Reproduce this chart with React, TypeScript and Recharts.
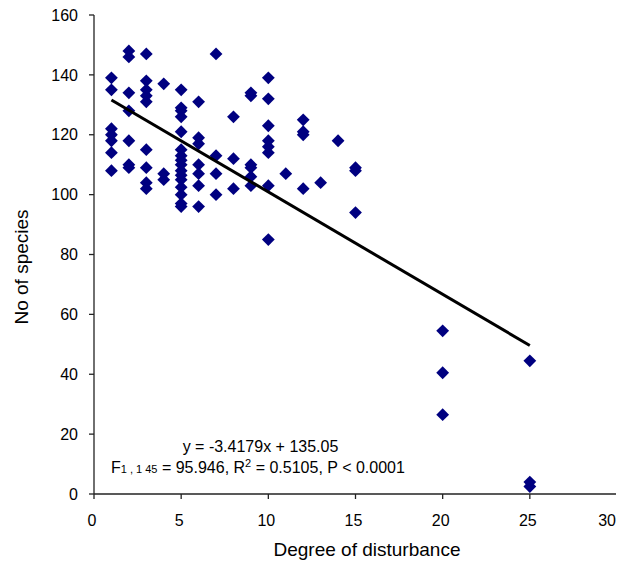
import React from 'react';
import { ScatterChart, Scatter, XAxis, YAxis, Customized } from 'recharts';

// degree of disturbance and the species counts seen at each level
const disturbanceLevels = [1, 2, 3, 4, 5, 6, 7, 8, 9, 10, 11, 12, 13, 14, 15, 20, 25];
const speciesCounts = [
  [139, 135, 122, 120, 118, 114, 108],
  [148, 146, 134, 128, 118, 110, 109],
  [147, 138, 135, 133, 131, 115, 109, 104, 102],
  [137, 107, 105],
  [135, 129, 128, 126, 121, 115, 113, 111.5, 110, 108, 106.5, 105, 102.5, 100, 97, 96],
  [131, 119, 117, 110, 107, 103, 96],
  [147, 113, 107, 100],
  [126, 112, 102],
  [134, 133, 110, 109, 106, 103],
  [139, 132, 123, 118, 116, 114, 103, 85],
  [107],
  [125, 121, 120, 102],
  [104],
  [118],
  [109, 108, 94],
  [54.5, 40.5, 26.5],
  [44.5, 4, 2.5],
];

const xTicks = [0, 5, 10, 15, 20, 25, 30];
const yTicks = [0, 20, 40, 60, 80, 100, 120, 140, 160];

// fitted regression
const slope = -3.4179;
const intercept = 135.05;
const fitRange = [1, 25];

const points = disturbanceLevels.flatMap((d, i) =>
  speciesCounts[i].map((s) => ({ x: d, y: s }))
);
const trend = fitRange.map((x) => ({ x, y: slope * x + intercept }));

const Diamond = (props: any) => {
  const { cx, cy } = props;
  const r = 6.4;
  return (
    <polygon
      points={`${cx},${cy - r} ${cx + r},${cy} ${cx},${cy + r} ${cx - r},${cy}`}
      fill="#000080"
    />
  );
};

// the last label would run past the page edge, so it is right-aligned to the tick
const XTick = (props: any) => {
  const { x, y, payload } = props;
  const last = payload.value === xTicks[xTicks.length - 1];
  return (
    <text
      x={last ? x - 1 : x - 2}
      y={y}
      dy="0.71em"
      textAnchor={last ? 'end' : 'middle'}
      fontSize={16}
      fill="#000"
    >
      {payload.value}
    </text>
  );
};

const Annotations = () => (
  <g fontFamily="Liberation Sans, Arial, sans-serif" fill="#000">
    <text x={260.5} y={451.7} fontSize={16} textAnchor="middle">
      y = -3.4179x + 135.05
    </text>
    <text x={111} y={473.3} fontSize={16}>
      F<tspan fontSize={11}>1 , 1 45</tspan> = 95.946, R
      <tspan fontSize={11} dy={-6}>2</tspan>
      <tspan dy={6}> = 0.5105, P &lt; 0.0001</tspan>
    </text>
    <text x={367} y={556} fontSize={19} textAnchor="middle">
      Degree of disturbance
    </text>
    <text x={28} y={267} fontSize={19} textAnchor="middle" transform="rotate(-90 28 267)">
      No of species
    </text>
  </g>
);

const App = () => {
  return (
    <div
      style={{
        width: 624,
        height: 562,
        marginLeft: -8,
        marginTop: -8,
        fontFamily: 'Liberation Sans, Arial, sans-serif',
      }}
    >
      <ScatterChart width={624} height={562} margin={{ top: 15, right: 7, left: 8, bottom: 0 }}>
        <XAxis
          type="number"
          dataKey="x"
          domain={[0, 30]}
          ticks={xTicks}
          interval={0}
          height={68}
          tickSize={5}
          tickMargin={16}
          stroke="#222"
          strokeWidth={1.3}
          tick={<XTick />}
        />
        <YAxis
          type="number"
          dataKey="y"
          domain={[0, 160]}
          ticks={yTicks}
          width={86}
          tickSize={5}
          tickMargin={11}
          stroke="#222"
          strokeWidth={1.3}
          tick={{ fill: '#000', fontSize: 16 }}
        />
        <Scatter data={points} shape={<Diamond />} isAnimationActive={false} />
        <Scatter
          data={trend}
          line={{ stroke: '#000', strokeWidth: 3 }}
          shape={() => <g />}
          isAnimationActive={false}
        />
        <Customized component={Annotations} />
      </ScatterChart>
    </div>
  );
};

export default App;
